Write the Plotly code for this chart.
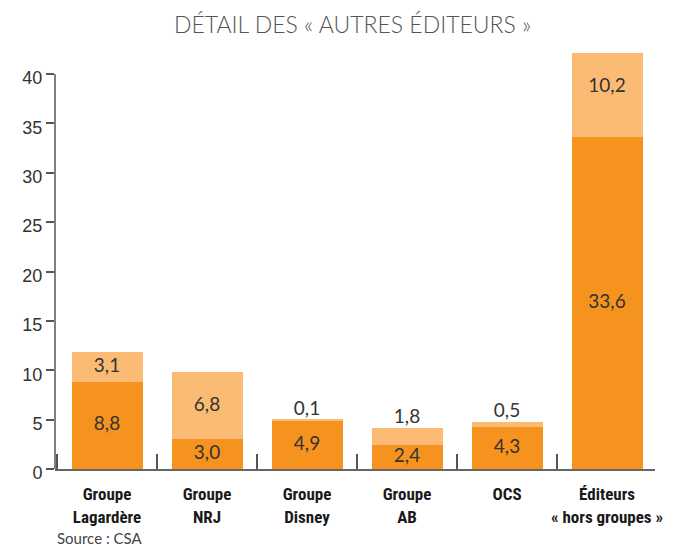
import plotly.graph_objects as go

categories = ["Groupe<br>Lagardère", "Groupe<br>NRJ", "Groupe<br>Disney", "Groupe<br>AB", "OCS", "Éditeurs<br>« hors groupes »"]
dark_values = [8.8, 3.0, 4.9, 2.4, 4.3, 33.6]
light_values = [3.1, 6.8, 0.1, 1.8, 0.5, 10.2]
light_label_inside = [True, True, False, False, False, True]
y_ticks = [0, 5, 10, 15, 20, 25, 30, 35, 40]

def fmt(v):
    return f"{v:.1f}".replace(".", ",")

DARK = "#F6931E"
LIGHT = "#FCBB74"
NUM_FONT = dict(family="Lato, 'Noto Sans', sans-serif", size=19, color="#333333")

fig = go.Figure()
fig.add_trace(go.Bar(
    x=categories, y=dark_values, marker=dict(color=DARK, line=dict(width=0)),
    width=0.71, hoverinfo="skip", showlegend=False,
))
fig.add_trace(go.Bar(
    x=categories, y=light_values, marker=dict(color=LIGHT, line=dict(width=0)),
    width=0.71, hoverinfo="skip", showlegend=False,
))

# labels of dark segments (centred)
fig.add_trace(go.Scatter(
    x=categories, y=[d / 2 for d in dark_values], mode="text",
    text=[fmt(v) for v in dark_values], textposition="middle center",
    textfont=NUM_FONT, hoverinfo="skip", showlegend=False, cliponaxis=False,
))
# labels of light segments: centred inside or above the stack
ins = [i for i, f in enumerate(light_label_inside) if f]
out = [i for i, f in enumerate(light_label_inside) if not f]
fig.add_trace(go.Scatter(
    x=[categories[i] for i in ins],
    y=[dark_values[i] + light_values[i] / 2 for i in ins], mode="text",
    text=[fmt(light_values[i]) for i in ins], textposition="middle center",
    textfont=NUM_FONT, hoverinfo="skip", showlegend=False, cliponaxis=False,
))
fig.add_trace(go.Scatter(
    x=[categories[i] for i in out],
    y=[dark_values[i] + light_values[i] for i in out], mode="text",
    text=[fmt(light_values[i]) for i in out], textposition="top center",
    textfont=NUM_FONT, hoverinfo="skip", showlegend=False, cliponaxis=False,
))

fig.update_layout(
    width=678, height=548,
    margin=dict(l=55, r=23, t=53, b=79, autoexpand=False),
    barmode="stack",
    plot_bgcolor="white", paper_bgcolor="white",
    title=dict(
        text="DÉTAIL DES « AUTRES ÉDITEURS »",
        x=0.52, xanchor="center", y=0.954, yanchor="middle",
        font=dict(family="'Lato Light', Lato, 'Noto Sans', sans-serif", size=23, color="#555555", weight=300),
    ),
    xaxis=dict(
        type="category", showline=True, linecolor="#666666", linewidth=2,
        ticks="inside", tickson="boundaries", ticklen=15, tickcolor="#555555", tickwidth=1.5,
        tickangle=0, automargin=False, ticklabelstandoff=9,
        tickfont=dict(family="'Liberation Sans Narrow', 'Arial Narrow', 'Roboto Condensed', sans-serif",
                      size=17, color="#1a1a1a", weight="bold"),
        showgrid=False, zeroline=False, range=[-0.52, 5.48],
    ),
    yaxis=dict(
        range=[0, 42.13], tickvals=y_ticks, ticktext=[str(t) for t in y_ticks],
        ticks="outside", ticklen=8, tickcolor="#555555", tickwidth=1.5,
        tickfont=dict(family="'Liberation Sans', Arial, sans-serif", size=18, color="#333333"),
        ticklabelshift=4, automargin=False,
        showline=False, showgrid=False, zeroline=False,
    ),
)

fig.add_shape(type="line", xref="paper", yref="y", x0=0, x1=0, y0=0, y1=40,
              line=dict(color="#555555", width=1.5))

fig.add_annotation(
    text="Source : CSA", xref="paper", yref="paper", x=0, y=0, xanchor="left", yanchor="middle",
    yshift=-69, xshift=0, showarrow=False,
    font=dict(family="Lato, 'Noto Sans', sans-serif", size=15, color="#444444"),
)

fig.write_html("out.html", config={"displayModeBar": False},
               post_script="document.body.style.margin='0';document.body.style.overflow='hidden';")
